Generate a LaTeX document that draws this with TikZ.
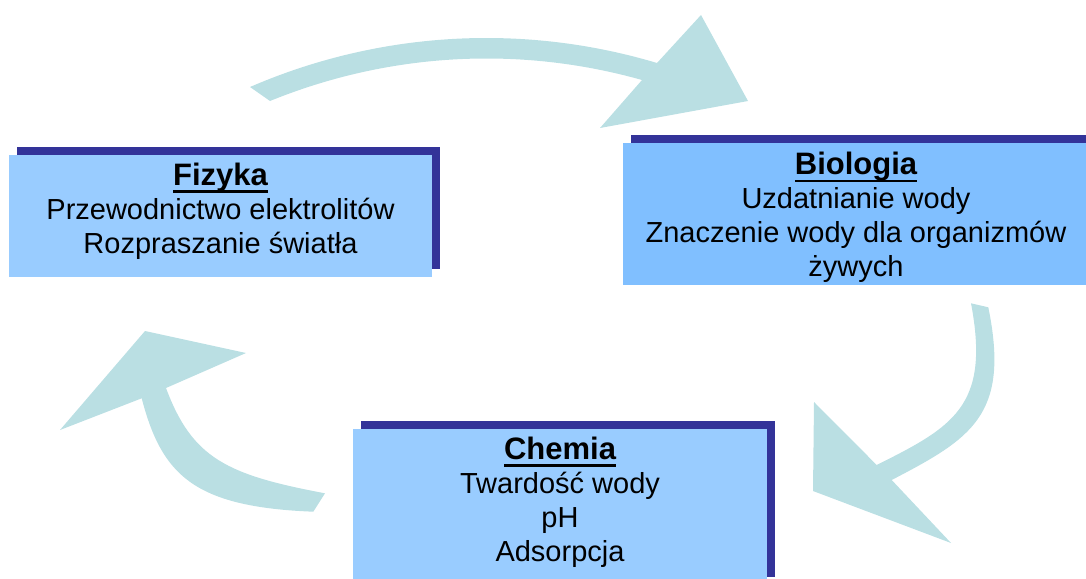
\documentclass[tikz,border=0pt]{standalone}
\usepackage{fontspec}
\setmainfont{Liberation Sans}
\usetikzlibrary{shadows}

\definecolor{arrowteal}{RGB}{186,223,227}
\definecolor{boxblue}{RGB}{153,204,255}
\definecolor{boxblueb}{RGB}{128,191,255}
\definecolor{shadowblue}{RGB}{51,51,153}

\newcommand{\subjtitle}[1]{\setbox0=\hbox{\fontsize{31}{34}\selectfont\bfseries #1}\rlap{\copy0}\rule[-7.5pt]{\wd0}{2.5pt}}

\tikzset{
	subject/.style={fill=boxblue, inner sep=0pt, outer sep=0pt, align=center,
		font=\fontsize{29}{34}\selectfont,
		drop shadow={shadow xshift=8pt, shadow yshift=8pt, fill=shadowblue, opacity=1}},
	bigarrow/.style={fill=arrowteal}
}

\begin{document}
\begin{tikzpicture}[x=1pt, y=-1pt]
	\useasboundingbox (0,0) rectangle (1086,578);
	% arrows
	\fill [bigarrow] (250,87) .. controls (378.6,31.3) and (522.7,22.8) .. (657,63)
		-- (701,15) -- (748,101) -- (600,128) -- (642,80)
		.. controls (518.7,45.3) and (388.5,52.8) .. (270,101) -- cycle;
	\fill [bigarrow] (988.3,307.3) .. controls (1010.3,415.1) and (971.5,438.4) .. (891.7,480)
		-- (951,543) -- (813,491) -- (814,402) -- (876.7,465)
		.. controls (952.7,426.9) and (990.6,406.4) .. (971,303.3) -- cycle;
	\fill [bigarrow] (313.3,511.7) .. controls (193.3,507) and (161.7,474.7) .. (141.7,398.3)
		-- (60,430) -- (145,331) -- (246,353) -- (166,388)
		.. controls (192.2,458.3) and (226.7,474.8) .. (325,493.3) -- cycle;
	% boxes
	\node [subject, minimum width=423pt, minimum height=122pt] (fizyka) at (220.5,216)
		{\subjtitle{Fizyka}\\Przewodnictwo elektrolitów\\Rozpraszanie światła\rule[-16pt]{0pt}{0pt}};
	\node [subject, fill=boxblueb, minimum width=466pt, minimum height=142pt] (biologia) at (856,214)
		{\rule{0pt}{30pt}\subjtitle{Biologia}\\Uzdatnianie wody\\Znaczenie wody dla organizmów\\żywych};
	\node [subject, minimum width=414pt, minimum height=156pt] (chemia) at (560,507)
		{\subjtitle{Chemia}\\Twardość wody\\pH\\Adsorpcja\rule[-16pt]{0pt}{0pt}};
\end{tikzpicture}
\end{document}
